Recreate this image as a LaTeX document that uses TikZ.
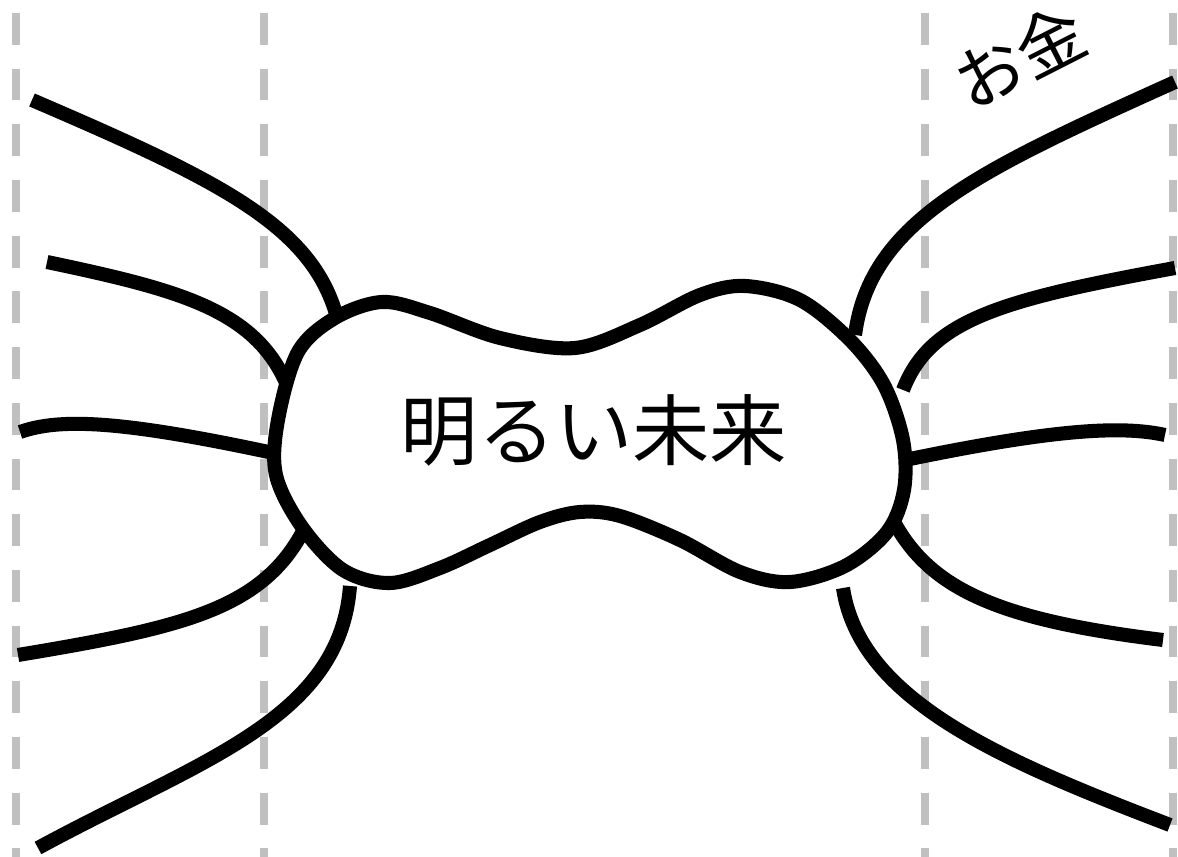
\documentclass[tikz,border=0pt]{standalone}
\usepackage{fontspec}
\newfontfamily\jpfont{Noto Sans CJK JP}
\begin{document}
\begin{tikzpicture}[x=0.02cm,y=-0.02cm,
  guide/.style={draw={rgb,255:red,192;green,192;blue,192},line width=4.5pt,dash pattern=on 18.1pt off 13.6pt},
  leg/.style={draw=black,line width=8pt},
  blob/.style={draw=black,fill=white,line width=8pt}]
\useasboundingbox (0,0) rectangle (1178,857);
% guides
\foreach \gx/\gn in {16/g1,264/g2,925/g3,1173/g4}{
  \coordinate (\gn a) at (\gx,13);
  \coordinate (\gn b) at (\gx,857);
  \draw[guide] (\gn a) -- (\gn b);
}
% legs left
\coordinate (l1a) at (32,100);  \coordinate (l1b) at (340,330);
\coordinate (l2a) at (47,262);  \coordinate (l2b) at (287,385);
\coordinate (l3a) at (20,432);  \coordinate (l3b) at (278,454);
\coordinate (l4a) at (18,655);  \coordinate (l4b) at (302,533);
\coordinate (l5a) at (38,848);  \coordinate (l5b) at (350,586);
\draw[leg] (l1a) .. controls (230,185) and (320,230) .. (l1b);
\draw[leg] (l2a) .. controls (180,290) and (255,310) .. (l2b);
\draw[leg] (l3a) .. controls (60,418) and (120,420) .. (l3b);
\draw[leg] (l4a) .. controls (180,628) and (260,610) .. (l4b);
\draw[leg] (l5a) .. controls (200,760) and (340,720) .. (l5b);
% legs right
\coordinate (r1a) at (1175,82);  \coordinate (r1b) at (855,335);
\coordinate (r2a) at (1175,268); \coordinate (r2b) at (903,390);
\coordinate (r3a) at (1165,435); \coordinate (r3b) at (905,460);
\coordinate (r4a) at (1163,640); \coordinate (r4b) at (893,520);
\coordinate (r5a) at (1170,825); \coordinate (r5b) at (843,588);
\draw[leg] (r1a) .. controls (980,170) and (870,220) .. (r1b);
\draw[leg] (r2a) .. controls (1000,300) and (930,320) .. (r2b);
\draw[leg] (r3a) .. controls (1120,425) and (1050,430) .. (r3b);
\draw[leg] (r4a) .. controls (1000,620) and (930,590) .. (r4b);
\draw[leg] (r5a) .. controls (1000,760) and (860,700) .. (r5b);
% blob
\draw[blob] plot[smooth cycle,tension=0.55] coordinates {
 (298,352) (335,318) (382,302) (430,313) (500,338) (575,348) (640,325)
 (700,295) (745,286) (800,300) (850,340) (884,385) (903,440) (904,490)
 (887,532) (845,566) (790,582) (740,572) (680,540) (620,516) (580,512)
 (540,522) (490,545) (440,568) (390,583) (343,570) (302,527) (276,475) (278,420)};
\node[font=\jpfont\fontsize{44pt}{52pt}\selectfont,inner sep=0pt] (title) at (594,430) {明るい未来};
\node[font=\jpfont\fontsize{39pt}{44pt}\selectfont,inner sep=0pt,rotate=27] (money) at (1019,56) {お金};
\end{tikzpicture}
\end{document}
